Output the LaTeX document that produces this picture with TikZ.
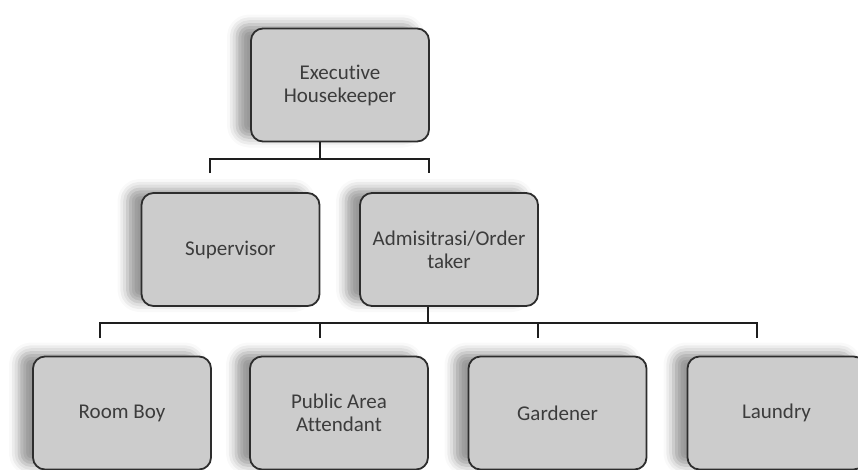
\documentclass[tikz,border=0pt]{standalone}
\usepackage{fontspec}
\setmainfont{Carlito}[Ligatures=NoCommon]
\usepackage{tikz}
\usetikzlibrary{shadows.blur}
\definecolor{boxFill}{RGB}{204,204,204}
\definecolor{boxLine}{RGB}{45,45,45}
\definecolor{txtGray}{RGB}{60,60,60}
\definecolor{connLine}{RGB}{30,30,30}

\begin{document}
\begin{tikzpicture}[x=1pt,y=-1pt,font=\fontsize{21}{23}\selectfont,
  box/.style={draw=boxLine,fill=boxFill,line width=1.8pt,rounded corners=12pt,align=center,
    text=txtGray,minimum width=178pt,minimum height=113pt,inner sep=2pt,
    blur shadow={shadow xshift=-14pt,shadow yshift=4pt,shadow blur radius=10pt,shadow opacity=40}},
  conn/.style={connLine,line width=1.8pt}]
\useasboundingbox (0,0) rectangle (858,469);
\node[box] (ex) at (340,85) {Executive\\Housekeeper};
\node[box] (sup) at (230.5,249.5) {Supervisor};
\node[box] (adm) at (449,249.5) {Admisitrasi/Order\\taker};
\node[box] (rb) at (122,413) {Room Boy};
\node[box] (pa) at (339,413) {Public Area\\Attendant};
\node[box] (gd) at (557.5,413) {Gardener};
\node[box] (ld) at (776.5,413) {Laundry};
% upper branch
\coordinate (j1) at (320,159);
\coordinate (dsup) at (210,173);
\coordinate (dadm) at (429,173);
\draw[conn] (ex.south -| j1) -- (j1);
\draw[conn] (dsup) -- (dsup |- j1) -- (dadm |- j1) -- (dadm);
% lower branch
\coordinate (j2) at (428,323);
\coordinate (drb) at (100,338);
\coordinate (dpa) at (320,338);
\coordinate (dgd) at (538,338);
\coordinate (dld) at (757,338);
\draw[conn] (adm.south -| j2) -- (j2);
\draw[conn] (drb) -- (drb |- j2) -- (dld |- j2) -- (dld);
\draw[conn] (dpa |- j2) -- (dpa);
\draw[conn] (dgd |- j2) -- (dgd);
\end{tikzpicture}
\end{document}
